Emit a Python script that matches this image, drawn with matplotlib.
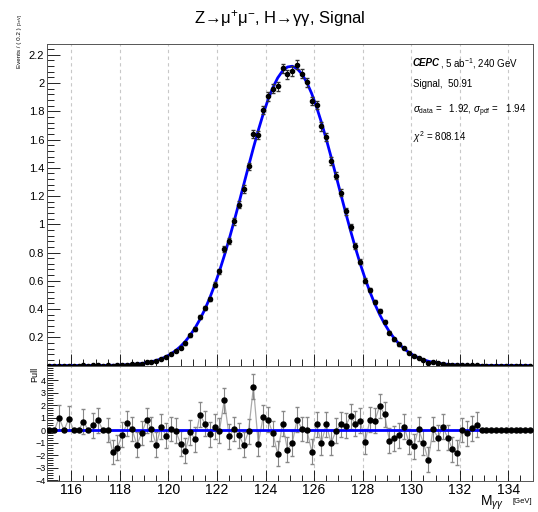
import numpy as np
import matplotlib
matplotlib.use("Agg")
import matplotlib.pyplot as plt
from matplotlib.ticker import MultipleLocator, FuncFormatter

plt.rcParams['font.family'] = ['Liberation Sans', 'DejaVu Sans']
plt.rcParams['mathtext.fontset'] = 'custom'
plt.rcParams['mathtext.rm'] = 'Liberation Sans'
plt.rcParams['mathtext.it'] = 'Liberation Sans:italic'
plt.rcParams['mathtext.bf'] = 'Liberation Sans:bold'

# ---- data ----
bin_width = 0.2
mass = np.round(115.1 + bin_width * np.arange(100), 2)   # bin centres, 115 - 135 GeV

# fitted pdf, events per bin
pdf_values = [
    0.0000, 0.0000, 0.0000, 0.0000, 0.0000, 0.0001, 0.0001, 0.0001, 0.0002, 0.0003,
    0.0005, 0.0007, 0.0011, 0.0016, 0.0024, 0.0035, 0.0050, 0.0071, 0.0100, 0.0139,
    0.0192, 0.0262, 0.0354, 0.0473, 0.0625, 0.0818, 0.1058, 0.1355, 0.1716, 0.2152,
    0.2668, 0.3275, 0.3975, 0.4774, 0.5675, 0.6674, 0.7768, 0.8938, 1.0182, 1.1476,
    1.2796, 1.4117, 1.5412, 1.6646, 1.7789, 1.8811, 1.9673, 2.0365, 2.0858, 2.1137,
    2.1193, 2.1024, 2.0638, 2.0042, 1.9260, 1.8311, 1.7225, 1.6034, 1.4766, 1.3456,
    1.2131, 1.0820, 0.9551, 0.8340, 0.7206, 0.6161, 0.5211, 0.4361, 0.3610, 0.2959,
    0.2398, 0.1923, 0.1526, 0.1198, 0.0931, 0.0716, 0.0545, 0.0410, 0.0305, 0.0225,
    0.0164, 0.0118, 0.0084, 0.0060, 0.0042, 0.0029, 0.0020, 0.0013, 0.0009, 0.0006,
    0.0004, 0.0003, 0.0002, 0.0001, 0.0001, 0.0000, 0.0000, 0.0000, 0.0000, 0.0000,
]

# pulls per bin, None = empty bin
pulls = [
    None, None, 1.0, None, 0.93, None, None, 0.7, None, 0.4,
    0.8, None, 0.02, -1.75, -1.4, -0.37, 0.55, 0.1, -1.18, -0.22,
    0.8, 0.1, -1.18, 0.3, -0.43, 0.1, -0.03, -1.1, -1.63, -0.16,
    -0.72, 1.26, 0.54, -0.32, 0.27, -0.05, 2.41, -0.48, 0.1, -0.4,
    -1.18, -0.08, 3.48, -1.07, 1.04, 0.83, -0.24, -1.9, 0.54, -1.55,
    -1.04, 0.86, 0.1, 0.05, -1.71, 0.48, -1.02, 0.48, -1.02, -0.05,
    0.48, 0.37, 1.12, 0.51, 0.75, -0.94, 0.83, 0.75, 1.95, 1.29,
    -0.83, -0.64, -0.4, 0.3, -0.91, -1.28, 0.1, -1.0, -2.38, 0.1,
    -0.59, 0.27, -0.59, -1.53, -1.79, 0.02, -0.24, 0.16, 0.46, None,
    None, None, None, None, None, None, None, None, None, None,
]

event_weight = 0.0005   # weight of one MC event

# ---- derived ----
pdf = np.array(pdf_values)
filled = np.array([p is not None for p in pulls])
pull = np.array([p if p is not None else 0.0 for p in pulls])
err = np.where(filled, np.sqrt(event_weight * pdf), 0.0)
events = np.where(filled, pdf + pull * err, 0.0)
pull_err = np.where(filled, 1.0, 0.0)

# ---- figure ----
fig = plt.figure(figsize=(5.38, 5.12), dpi=100)
ax = fig.add_axes([0.0874, 0.2861, 0.9026, 0.6289])
axp = fig.add_axes([0.0874, 0.0600, 0.9026, 0.2261], sharex=ax)

grid_kw = dict(color='#c8c8c8', lw=0.8, ls=(0, (3, 3)))

# top panel
ax.plot(mass, pdf, color='#0000ff', lw=2, zorder=3)
ax.errorbar(mass, events, yerr=err, fmt='o', ms=3.0, color='black',
            ecolor='#333333', elinewidth=0.7, capsize=1.2, zorder=4)
ax.set_xlim(115, 135)
ax.set_ylim(0, 2.28)
ax.yaxis.set_major_locator(MultipleLocator(0.2))
ax.yaxis.set_minor_locator(MultipleLocator(0.04))
ax.xaxis.set_major_locator(MultipleLocator(2))
ax.xaxis.set_minor_locator(MultipleLocator(0.5))
ax.yaxis.set_major_formatter(FuncFormatter(lambda v, p: '' if v < 0.1 else '%g' % round(v, 1)))
ax.tick_params(which='both', direction='in', top=False, right=False, labelbottom=False)
ax.tick_params(which='major', length=9, width=0.6, labelsize=8, pad=2)
ax.tick_params(which='minor', length=5, width=0.6)
ax.grid(axis='x', which='major', **grid_kw)
for s in ax.spines.values():
    s.set_linewidth(0.7)
    s.set_color('#555555')

# legend text
x0 = 0.753
fs = 7
t = ax.text(x0, 0.938, 'CEPC', transform=ax.transAxes, fontsize=fs,
            fontweight='bold', fontstyle='italic', va='center')
fig.canvas.draw()
renderer = fig.canvas.get_renderer()
bb = t.get_window_extent(renderer)
x1 = ax.transAxes.inverted().transform((bb.x1, bb.y0))[0]
ax.text(x1, 0.938, ', 5 ab$^{-1}$, 240 GeV', transform=ax.transAxes, fontsize=fs, va='center')
ax.text(x0, 0.874, 'Signal,  50.91', transform=ax.transAxes, fontsize=fs, va='center')
ax.text(x0, 0.7925, r'$\sigma_{\mathrm{data}}$ =   1.92, $\sigma_{\mathrm{pdf}}$ =   1.94',
        transform=ax.transAxes, fontsize=fs, va='center')
ax.text(x0, 0.7096, r'$\chi^{2}$ = 808.14', transform=ax.transAxes, fontsize=fs, va='center')

# pull panel
axp.axhline(0, color='#0000ff', lw=2, zorder=3)
axp.plot(mass, pull, color='#aaaaaa', lw=0.9, zorder=2)
axp.errorbar(mass[filled], pull[filled], yerr=pull_err[filled], fmt='none',
             ecolor='#888888', elinewidth=0.8, capsize=1.3, zorder=2)
axp.plot(mass, pull, 'o', ms=3.6, color='black', zorder=4)
axp.set_ylim(-4.1, 5.2)
axp.yaxis.set_minor_locator(MultipleLocator(0.2))
axp.set_yticks(np.arange(-4, 5, 1))
axp.tick_params(which='both', direction='in', top=False, right=False)
axp.tick_params(axis='x', which='major', length=8, width=0.6, labelsize=10, pad=1.5)
axp.tick_params(axis='y', which='major', length=8, width=0.6, labelsize=6.5, pad=1)
axp.tick_params(which='minor', length=4, width=0.6)
axp.grid(axis='x', which='major', **grid_kw)
for s in axp.spines.values():
    s.set_linewidth(0.7)
    s.set_color('#555555')

# labels
fig.text(0.520, 0.963, r'Z→μ$^{+}$μ$^{-}$, H→γγ, Signal', ha='center', va='center', fontsize=12)

yl = fig.text(0.037, 0.867, 'Events / ( 0.2 )', rotation=90, ha='center', va='bottom', fontsize=4.5)
yb = yl.get_window_extent(renderer)
ytop = fig.transFigure.inverted().transform((yb.x0, yb.y1))[1]
fig.text(0.037, ytop + 0.004, '[GeV]', rotation=90, ha='center', va='bottom', fontsize=3.2)

fig.text(0.064, 0.283, 'Pull', rotation=90, ha='center', va='top', fontsize=6.5)
fig.text(0.936, 0.0125, r'M$_{\gamma\gamma}$', ha='right', va='baseline', fontsize=10)
fig.text(0.990, 0.0185, '[GeV]', ha='right', va='baseline', fontsize=5.5)

fig.savefig('out.png', dpi=100)
